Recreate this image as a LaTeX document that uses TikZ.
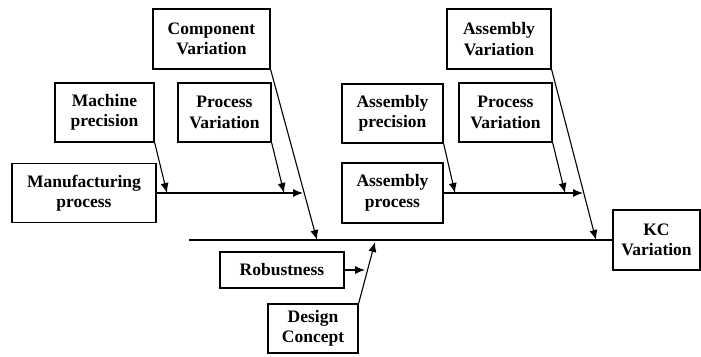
\documentclass[tikz,border=0pt]{standalone}
\usepackage{fontspec}
\setmainfont{Liberation Serif}
\usetikzlibrary{arrows.meta}
\begin{document}
\begin{tikzpicture}[x=1pt,y=-1pt,
  box/.style={draw,line width=1.3pt,inner sep=0pt,align=center,
    font=\bfseries\fontsize{17.5}{20.5}\selectfont},
  bone/.style={line width=1.3pt},
  arr/.style={line width=1.1pt,-{Latex[length=10pt,width=8pt]}}]
\useasboundingbox (0,0) rectangle (701,356);
\node[box,minimum width=117pt,minimum height=60pt] (comp) at (211.5,39) {Component\\Variation};
\node[box,minimum width=99pt,minimum height=59pt] (mach) at (104.5,112.5) {Machine\\precision};
\node[box,minimum width=93pt,minimum height=59pt] (pvl) at (224.5,112.5) {Process\\Variation};
\node[box,minimum width=144pt,minimum height=59pt] (manu) at (84,193) {Manufacturing\\process};
\node[box,minimum width=104pt,minimum height=60pt] (asmv) at (499,39) {Assembly\\Variation};
\node[box,minimum width=101pt,minimum height=59pt] (asmp) at (392.5,113.5) {Assembly\\precision};
\node[box,minimum width=93pt,minimum height=59pt] (pvr) at (505.5,112.5) {Process\\Variation};
\node[box,minimum width=101pt,minimum height=60pt] (asmpr) at (392.5,193) {Assembly\\process};
\node[box,minimum width=87pt,minimum height=60pt] (kc) at (656.5,240) {KC\\Variation};
\node[box,minimum width=124pt,minimum height=36pt] (rob) at (282,270) {Robustness};
\node[box,minimum width=90pt,minimum height=49pt] (des) at (313,328.5) {Design\\Concept};
% spine and bones
\coordinate (spL) at (189,240);
\draw[bone] (spL) -- (kc.west);
\coordinate (lbEnd) at (303,193);
\coordinate (rbEnd) at (583,193);
\draw[arr] (manu.east) -- (lbEnd);
\draw[arr] (asmpr.east) -- (rbEnd);
% sub-causes
\coordinate (t1) at (167,193);
\coordinate (t2) at (284,193);
\coordinate (t3) at (317,240);
\coordinate (t4) at (455,193);
\coordinate (t5) at (565,193);
\coordinate (t6) at (596,240);
\coordinate (t7) at (365,270);
\coordinate (t8) at (375,242);
\draw[arr] (mach.south east) -- (t1);
\draw[arr] (pvl.south east) -- (t2);
\draw[arr] (comp.south east) -- (t3);
\draw[arr] (asmp.south east) -- (t4);
\draw[arr] (pvr.south east) -- (t5);
\draw[arr] (asmv.south east) -- (t6);
\draw[arr] (rob.east) -- (t7);
\draw[arr] (des.north east) -- (t8);
\end{tikzpicture}
\end{document}
